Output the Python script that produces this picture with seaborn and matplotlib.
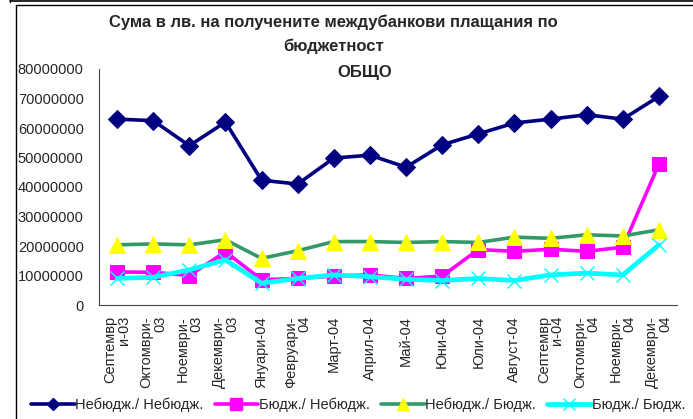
import matplotlib
matplotlib.use("Agg")
import matplotlib.pyplot as plt
import seaborn as sns
import numpy as np
import pandas as pd
from matplotlib.lines import Line2D

categories = ["Септемвр\nи-03", "Октомври-\n03", "Ноември-\n03", "Декември-\n03",
              "Януари-04", "Февруари-\n04", "Март-04", "Април-04", "Май-04",
              "Юни-04", "Юли-04", "Август-04", "Септемвр\nи-04", "Октомври-\n04",
              "Ноември-\n04", "Декември-\n04"]

nebudj_nebudj = [63.0, 62.5, 54.0, 62.0, 42.3, 41.0, 49.8, 50.8, 46.7, 54.3,
                 58.0, 61.7, 63.0, 64.5, 63.0, 70.7]
budj_nebudj = [11.2, 11.1, 10.0, 18.0, 8.6, 9.0, 9.8, 10.2, 9.0, 9.8,
               18.8, 18.2, 18.9, 18.2, 19.6, 47.8]
nebudj_budj = [20.4, 20.7, 20.4, 22.1, 15.8, 18.4, 21.5, 21.5, 21.2, 21.5,
               21.2, 23.0, 22.6, 23.8, 23.4, 25.5]
budj_budj = [9.0, 9.4, 11.9, 15.3, 7.4, 9.0, 10.2, 9.6, 8.7, 8.3,
             9.0, 8.3, 10.2, 10.8, 10.2, 20.4]

series_names = ["Небюдж./ Небюдж.", "Бюдж./ Небюдж.", "Небюдж./ Бюдж.", "Бюдж./ Бюдж."]
y_ticks = [0, 10000000, 20000000, 30000000, 40000000, 50000000, 60000000, 70000000, 80000000]

sns.set_style("white")
plt.rcParams['font.family'] = ['Liberation Sans', 'DejaVu Sans']

W, H = 693, 419
FS = 10.5
fig = plt.figure(figsize=(W / 100, H / 100), dpi=100)
ax = fig.add_axes([99 / W, 1 - 305 / H, (677 - 99) / W, (305 - 69) / H])

x = np.arange(len(categories))
styles = [
    dict(color="#000080", marker="D", markersize=9, markerfacecolor="#000080",
         markeredgecolor="#000080", linewidth=2.6),
    dict(color="#FF00FF", marker="s", markersize=10, markerfacecolor="#FF00FF",
         markeredgecolor="#FF00FF", linewidth=2.6),
    dict(color="#339966", marker="^", markersize=11, markerfacecolor="#FFFF00",
         markeredgecolor="#FFFF00", linewidth=2.6),
    dict(color="#00FFFF", marker="x", markersize=10, markeredgecolor="#00FFFF",
         markeredgewidth=1.0, linewidth=3.4),
]
all_vals = [nebudj_nebudj, budj_nebudj, nebudj_budj, budj_budj]
for i, (name, vals, st) in enumerate(zip(series_names, all_vals, styles)):
    df = pd.DataFrame({"x": x, "y": np.array(vals) * 1e6})
    sns.lineplot(data=df, x="x", y="y", ax=ax, label=name, zorder=3 + i,
                 clip_on=False, **st)

ax.set_xlim(-0.5, len(categories) - 0.5)
ax.set_ylim(0, 80000000)
ax.set_yticks(y_ticks)
ax.set_yticklabels([str(v) for v in y_ticks], fontsize=FS)
ax.set_xticks(x)
ax.set_xticklabels(categories, rotation=90, fontsize=FS, ha="center",
                   va="top", multialignment="right", linespacing=0.95)
ax.set_xticks(np.arange(-0.5, len(categories)), minor=True)
ax.tick_params(axis="x", which="major", length=0, pad=8)
ax.tick_params(axis="x", which="minor", length=4, width=0.8, direction="out", color="#333333")
ax.tick_params(axis="y", length=4, width=0.8, direction="out", color="#333333", pad=7)
ax.set_xlabel("")
ax.set_ylabel("")
for s in ["top", "right"]:
    ax.spines[s].set_visible(False)
for s in ["left", "bottom"]:
    ax.spines[s].set_color("#444444")
    ax.spines[s].set_linewidth(0.8)
ax.grid(False)
ax.get_legend().remove()

# titles
TFS = 12
fig.text(333 / W, 1 - 22 / H, "Сума в лв. на получените междубанкови плащания по",
         ha="center", va="center", fontsize=TFS, fontweight="bold")
fig.text(334 / W, 1 - 46 / H, "бюджетност", ha="center", va="center",
         fontsize=TFS, fontweight="bold")
fig.text(365 / W, 1 - 73 / H, "ОБЩО", ha="center", va="center",
         fontsize=TFS, fontweight="bold")

# legend
leg_styles = [dict(st) for st in styles]
leg_styles[0]["markersize"] = 6
leg_styles[1]["markersize"] = 8
leg_styles[2]["markersize"] = 9
leg_styles[3]["markersize"] = 8
handles = [Line2D([0], [0], **st) for st in leg_styles]
fig.legend(handles, series_names, loc="center", bbox_to_anchor=(358 / W, 1 - 405 / H),
           ncol=4, frameon=False, fontsize=FS, handlelength=3.0, handletextpad=0.05,
           columnspacing=0.75, borderpad=0)

# frame lines
fig.add_artist(Line2D([10 / W, 1], [1 - 1.5 / H, 1 - 1.5 / H], transform=fig.transFigure,
                      color="black", linewidth=1.2))
fig.add_artist(Line2D([10 / W, 10 / W], [1, 1 - 2 / H], transform=fig.transFigure,
                      color="black", linewidth=1.0))
fig.add_artist(Line2D([16 / W, 1], [1 - 5 / H, 1 - 5 / H], transform=fig.transFigure,
                      color="black", linewidth=1.0))
fig.add_artist(Line2D([16 / W, 16 / W], [1 - 5 / H, 0], transform=fig.transFigure,
                      color="black", linewidth=1.0))

fig.savefig("out.png", dpi=100)
